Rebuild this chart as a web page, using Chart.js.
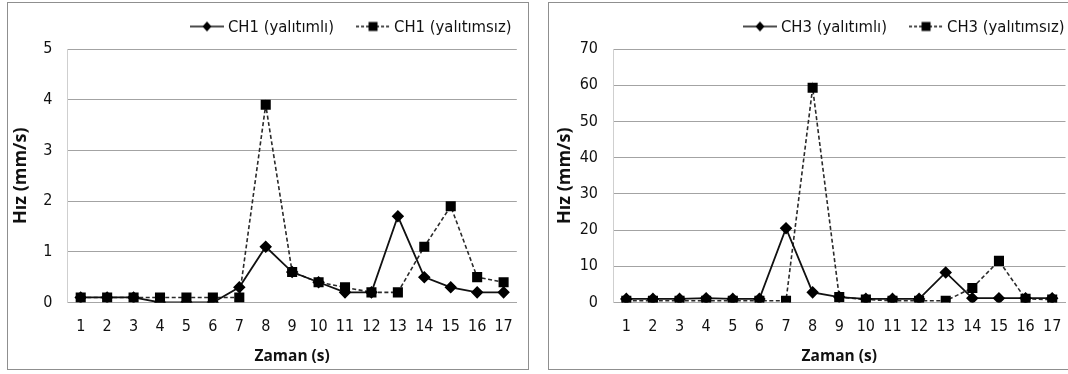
<!DOCTYPE html>
<html>
<head>
<meta charset="utf-8">
<script src="https://cdn.jsdelivr.net/npm/chart.js@4"></script>
<style>
  body { margin: 0; background: #fff; width: 1068px; height: 374px; overflow: hidden; position: relative; }
  .box { position: absolute; top: 2px; height: 366px; border: 1.5px solid #8f8f8f; background: #fff; }
  #b1 { left: 7px; width: 520px; }
  #b2 { left: 548px; width: 530px; }
  canvas { display: block; }
</style>
</head>
<body>
<div class="box" id="b1"><canvas id="ch1" width="520" height="366"></canvas></div>
<div class="box" id="b2"><canvas id="ch3" width="530" height="366"></canvas></div>
<script>
/* CH1 / CH3 velocity charts */
var zaman = ['1','2','3','4','5','6','7','8','9','10','11','12','13','14','15','16','17'];

var ch1Yalitimli  = [0.1, 0.1, 0.1, 0, 0, 0, 0.3, 1.1, 0.6, 0.4, 0.2, 0.2, 1.7, 0.5, 0.3, 0.2, 0.2];
var ch1Yalitimsiz = [0.1, 0.1, 0.1, 0.1, 0.1, 0.1, 0.1, 3.9, 0.6, 0.4, 0.3, 0.2, 0.2, 1.1, 1.9, 0.5, 0.4];

var ch3Yalitimli  = [1, 1, 1, 1.2, 1, 1, 20.5, 2.8, 1.5, 1, 1, 1, 8.3, 1.2, 1.2, 1.2, 1.2];
var ch3Yalitimsiz = [0.5, 0.5, 0.5, 0.5, 0.5, 0.5, 0.5, 59.3, 1.5, 0.8, 0.5, 0.5, 0.5, 4, 11.5, 1, 0.8];

var NARROW = "'DejaVu Sans Condensed', sans-serif";
var WIDE = "'Open Sans', sans-serif";
var TXT = '#111';

// little legend icon: line with a marker in the middle
function legendIcon(dashed, square) {
    var c = document.createElement('canvas');
    c.width = 34; c.height = 14;
    var g = c.getContext('2d');
    g.strokeStyle = '#111';
    g.lineWidth = 1.7;
    if (dashed) g.setLineDash([3, 2]);
    g.beginPath(); g.moveTo(0, 7); g.lineTo(34, 7); g.stroke();
    g.setLineDash([]);
    g.fillStyle = '#000';
    if (square) {
        g.fillRect(12.5, 2.5, 9, 9);
    } else {
        g.beginPath();
        g.moveTo(17, 2); g.lineTo(21.5, 7); g.lineTo(17, 12); g.lineTo(12.5, 7);
        g.closePath(); g.fill();
    }
    return c;
}
var icons = [legendIcon(false, false), legendIcon(true, true)];

// excel-like legend, right aligned above the plot
var sheetLegend = {
    id: 'sheetLegend',
    afterDraw: function(chart, args, opts) {
        var ctx = chart.ctx;
        ctx.save();
        ctx.font = '16.5px ' + NARROW;
        ctx.fillStyle = TXT;
        ctx.textBaseline = 'middle';
        var labels = chart.data.datasets.map(function(d) { return d.label; });
        var total = 0;
        labels.forEach(function(l, i) {
            total += 34 + 4 + ctx.measureText(l).width + (i ? 0 : 22);
        });
        var x = opts.right - total;
        labels.forEach(function(l, i) {
            ctx.drawImage(icons[i], x, opts.y - 7);
            x += 38;
            ctx.fillText(l, x, opts.y + 1);
            x += ctx.measureText(l).width + 22;
        });
        ctx.restore();
    }
};

function makeChart(id, name, a, b, ymax, ystep, yWidth, padRight, legRight, titlePad) {
    new Chart(document.getElementById(id), {
        type: 'line',
        data: {
            labels: zaman,
            datasets: [{
                label: name + ' (yalıtımlı)',
                data: a,
                borderColor: '#111',
                borderWidth: 1.8,
                pointStyle: 'rectRot',
                pointRadius: 5,
                pointBackgroundColor: '#000',
                pointBorderColor: '#000',
                tension: 0
            }, {
                label: name + ' (yalıtımsız)',
                data: b,
                borderColor: '#2a2a2a',
                borderWidth: 1.6,
                borderDash: [4, 2.5],
                pointStyle: 'rect',
                pointRadius: 6,
                pointBackgroundColor: '#000',
                pointBorderColor: '#000',
                tension: 0
            }]
        },
        plugins: [sheetLegend],
        options: {
            responsive: false,
            animation: false,
            layout: { padding: { left: 0, right: padRight, top: 46, bottom: 0 } },
            plugins: {
                tooltip: { enabled: false },
                legend: { display: false },
                sheetLegend: { right: legRight, y: 23.5 }
            },
            scales: {
                x: {
                    offset: true,
                    grid: { display: false, drawTicks: false },
                    border: { color: '#a6a6a6' },
                    ticks: { color: TXT, padding: 15, autoSkip: false, maxRotation: 0, font: { family: NARROW, size: 16 } },
                    title: { display: true, text: 'Zaman (s)', color: TXT, padding: { top: 0, bottom: 3 }, font: { family: WIDE, size: 15.5, weight: 'bold' } },
                    afterFit: function(s) { s.height = 66.5; }
                },
                y: {
                    min: 0, max: ymax,
                    ticks: { stepSize: ystep, color: TXT, padding: 15, font: { family: NARROW, size: 16 } },
                    grid: { color: '#a3a3a3', drawTicks: false },
                    border: { display: true, color: '#cfcfcf' },
                    title: { display: true, text: 'Hız (mm/s)', color: TXT, padding: { top: titlePad, bottom: 0 }, font: { family: WIDE, size: 18, weight: 'bold' } },
                    afterFit: function(s) { s.width = yWidth; }
                }
            }
        }
    });
}

makeChart('ch1', 'CH1', ch1Yalitimli, ch1Yalitimsiz, 5, 1, 59.5, 8.5, 503.5, 2);
makeChart('ch3', 'CH3', ch3Yalitimli, ch3Yalitimsiz, 70, 10, 64, 13.5, 515.5, 5);
</script>
</body>
</html>
